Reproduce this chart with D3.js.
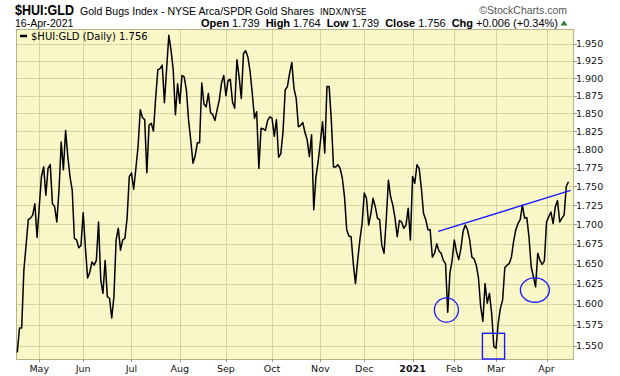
<!DOCTYPE html>
<html><head><meta charset="utf-8">
<script src="https://cdn.jsdelivr.net/npm/d3@7"></script>
<style>html,body{margin:0;padding:0;background:#fff;} svg{display:block;}</style>
</head><body>
<svg id="chart" width="620" height="376"></svg>
<script>
// ---- data: daily close of $HUI:GLD, one array per month (trading days) ----
const apr20 = [1.542,1.571,1.571,1.642,1.673,1.706,1.708,1.712,1.727,1.683];
const may20 = [1.723,1.763,1.776,1.738,1.774,1.779,1.727,1.723,1.703,1.745,1.810,1.772,1.826,1.790,1.763,1.745,1.682,1.680,1.670,1.673];
const jun20 = [1.715,1.671,1.632,1.639,1.652,1.648,1.654,1.703,1.630,1.613,1.654,1.609,1.607,1.583,1.609,1.680,1.695,1.667,1.680,1.682,1.708,1.763];
const jul20 = [1.768,1.746,1.774,1.804,1.855,1.844,1.841,1.768,1.833,1.836,1.825,1.871,1.912,1.914,1.919,1.865,1.914,1.963,1.941,1.912,1.848,1.892];
const aug20 = [1.864,1.904,1.902,1.883,1.840,1.812,1.781,1.791,1.809,1.809,1.893,1.863,1.859,1.878,1.851,1.848,1.840,1.855,1.869,1.893,1.904];
const sep20 = [1.875,1.897,1.898,1.866,1.857,1.927,1.902,1.871,1.936,1.940,1.931,1.910,1.878,1.843,1.852,1.774,1.829,1.828,1.826,1.840,1.845];
const oct20 = [1.843,1.818,1.841,1.789,1.794,1.824,1.883,1.888,1.907,1.923,1.885,1.871,1.831,1.833,1.837,1.823,1.813,1.790,1.820,1.719,1.763,1.783];
const nov20 = [1.810,1.838,1.795,1.888,1.888,1.840,1.776,1.776,1.779,1.774,1.761,1.736,1.693,1.685,1.684,1.650,1.625,1.654,1.680,1.701];
const dec20 = [1.741,1.734,1.699,1.714,1.734,1.723,1.708,1.706,1.673,1.663,1.706,1.758,1.736,1.725,1.708,1.684,1.705,1.703,1.695,1.699,1.721,1.680];
const jan21 = [1.763,1.754,1.779,1.774,1.747,1.714,1.706,1.693,1.693,1.658,1.663,1.675,1.666,1.663,1.654,1.650,1.590,1.638,1.654];
const feb21 = [1.680,1.665,1.655,1.669,1.691,1.699,1.693,1.680,1.658,1.656,1.648,1.632,1.597,1.579,1.625,1.601,1.613,1.589,1.549];
const mar21 = [1.547,1.577,1.595,1.605,1.645,1.648,1.650,1.658,1.678,1.693,1.701,1.706,1.725,1.708,1.709,1.684,1.646,1.634,1.621,1.663,1.654,1.649,1.653];
const apr21 = [1.703,1.710,1.716,1.701,1.723,1.731,1.703,1.708,1.712,1.750,1.756];

const monthSegments = [apr20, may20, jun20, jul20, aug20, sep20, oct20, nov20, dec20, jan21, feb21, mar21, apr21];
const monthLabels   = ["", "May", "Jun", "Jul", "Aug", "Sep", "Oct", "Nov", "Dec", "2021", "Feb", "Mar", "Apr"];
const yTickValues   = [1.550,1.575,1.600,1.625,1.650,1.675,1.700,1.725,1.750,1.775,1.800,1.825,1.850,1.875,1.900,1.925,1.950];

// annotations in data units: [trading-day index, ratio]
const trendLine = [[191.7, 1.691], [252.0, 1.7445]];
const circleMarks = [[195.4, 1.5927], [235.7, 1.6171]];
const boxMark = [[211.8, 1.5647], [221.9, 1.5344]];

const titleSymbol = "$HUI:GLD";
const titleName = "Gold Bugs Index - NYSE Arca/SPDR Gold Shares";
const titleExch = "INDX/NYSE";
const dateLabel = "16-Apr-2021";
const quote = [["Open","1.739"],["High","1.764"],["Low","1.739"],["Close","1.756"],["Chg","+0.006 (+0.34%)"]];
const legendLabel = "$HUI:GLD (Daily) 1.756";

// ---- build ----
const values = monthSegments.flat();
const monthStarts = [];
{ let c = 0; monthSegments.forEach(s => { monthStarts.push(c); c += s.length; }); }

const L = 16, R = 574, T = 30, B = 359;
const x = d3.scaleLinear().domain([-0.59, 253.5]).range([L, R]);
const y = d3.scaleLog().domain([1.5344, 1.971]).range([B, T]);

const svg = d3.select("#chart");
svg.append("rect").attr("width", 620).attr("height", 376).attr("fill", "#fff");

// plot background
svg.append("rect").attr("x", L).attr("y", T - 1).attr("width", R - L).attr("height", B - T + 1)
  .attr("fill", "#f9f7c7");

// horizontal grid
svg.append("g").selectAll("line").data(yTickValues).join("line")
  .attr("x1", L).attr("x2", R)
  .attr("y1", d => Math.round(y(d)) + 0.5).attr("y2", d => Math.round(y(d)) + 0.5)
  .attr("stroke", "#d6d6a2").attr("stroke-width", 1);

// vertical grid at month starts
const monthTicks = monthStarts.map((s, k) => ({ idx: s, label: monthLabels[k] })).filter(d => d.label);
svg.append("g").selectAll("line").data(monthTicks).join("line")
  .attr("x1", d => Math.round(x(d.idx)) + 0.5).attr("x2", d => Math.round(x(d.idx)) + 0.5)
  .attr("y1", T).attr("y2", B)
  .attr("stroke", "#d3d39c").attr("stroke-width", 1);

// border
svg.append("rect").attr("x", L + 0.5).attr("y", T - 0.5).attr("width", R - L - 1).attr("height", B - T + 1)
  .attr("fill", "none").attr("stroke", "#b3b386").attr("stroke-width", 1);

// right axis labels
const yAxis = svg.append("g");
yAxis.selectAll("line").data(yTickValues).join("line")
  .attr("x1", R).attr("x2", R + 3)
  .attr("y1", d => Math.round(y(d)) + 0.5).attr("y2", d => Math.round(y(d)) + 0.5)
  .attr("stroke", "#9a9a7a");
yAxis.selectAll("text").data(yTickValues).join("text")
  .attr("x", R + 2).attr("y", d => y(d)).attr("dy", "0.36em")
  .attr("font-family", "DejaVu Sans, Verdana, sans-serif").attr("font-size", 9.5)
  .attr("fill", "#111").text(d => d3.format(".3f")(d));

// bottom axis labels
const xAxis = svg.append("g");
xAxis.selectAll("line").data(monthTicks).join("line")
  .attr("x1", d => Math.round(x(d.idx)) + 0.5).attr("x2", d => Math.round(x(d.idx)) + 0.5)
  .attr("y1", B).attr("y2", B + 3).attr("stroke", "#9a9a7a");
xAxis.selectAll("text").data(monthTicks).join("text")
  .attr("x", d => x(d.idx)).attr("y", 371.5).attr("text-anchor", "middle")
  .attr("font-family", "DejaVu Sans, Verdana, sans-serif").attr("font-size", 9.5)
  .attr("font-weight", d => /^\d+$/.test(d.label) ? "bold" : "normal")
  .attr("fill", "#111").text(d => d.label);

// price line
const line = d3.line().x((d, i) => x(i)).y(d => y(d));
svg.append("path").datum(values).attr("d", line)
  .attr("fill", "none").attr("stroke", "#000").attr("stroke-width", 1.5)
  .attr("stroke-linejoin", "round");

// annotations
const blue = "#1a1aff";
svg.append("line")
  .attr("x1", x(trendLine[0][0])).attr("y1", y(trendLine[0][1]))
  .attr("x2", x(trendLine[1][0])).attr("y2", y(trendLine[1][1]))
  .attr("stroke", blue).attr("stroke-width", 1.4);
svg.append("ellipse").attr("cx", x(circleMarks[0][0])).attr("cy", y(circleMarks[0][1]))
  .attr("rx", 12).attr("ry", 12.2).attr("fill", "none").attr("stroke", blue).attr("stroke-width", 1.3);
svg.append("ellipse").attr("cx", x(circleMarks[1][0])).attr("cy", y(circleMarks[1][1]))
  .attr("rx", 14.5).attr("ry", 12.2).attr("fill", "none").attr("stroke", blue).attr("stroke-width", 1.3);
svg.append("rect")
  .attr("x", x(boxMark[0][0])).attr("y", y(boxMark[0][1]))
  .attr("width", x(boxMark[1][0]) - x(boxMark[0][0]))
  .attr("height", y(boxMark[1][1]) - y(boxMark[0][1]))
  .attr("fill", "none").attr("stroke", blue).attr("stroke-width", 1.4);

// legend
svg.append("line").attr("x1", 20).attr("x2", 27).attr("y1", 36).attr("y2", 36)
  .attr("stroke", "#000").attr("stroke-width", 2.5);
svg.append("text").attr("x", 31).attr("y", 40)
  .attr("font-family", "DejaVu Sans, Verdana, sans-serif").attr("font-size", 10)
  .attr("fill", "#000").text(legendLabel);

// header
svg.append("text").attr("x", 15).attr("y", 15)
  .attr("font-family", "Liberation Sans Narrow, Liberation Sans, Arial, sans-serif")
  .attr("font-weight", "bold").attr("font-size", 15.5)
  .attr("textLength", 59).attr("lengthAdjust", "spacingAndGlyphs")
  .attr("fill", "#000").text(titleSymbol);
svg.append("text").attr("x", 80).attr("y", 15)
  .attr("font-family", "Liberation Sans, Arial, sans-serif").attr("font-size", 10.5)
  .attr("textLength", 234).attr("lengthAdjust", "spacingAndGlyphs")
  .attr("fill", "#000").text(titleName);
svg.append("text").attr("x", 320).attr("y", 15)
  .attr("font-family", "DejaVu Sans, Verdana, sans-serif").attr("font-size", 8.5)
  .attr("fill", "#000").text(titleExch);
svg.append("text").attr("x", 567).attr("y", 14).attr("text-anchor", "end")
  .attr("font-family", "Liberation Sans, Arial, sans-serif").attr("font-size", 10.5)
  .attr("fill", "#555").text("\u00A9StockCharts.com");

svg.append("text").attr("x", 15).attr("y", 26.5)
  .attr("font-family", "Liberation Sans, Arial, sans-serif").attr("font-size", 10.5)
  .attr("fill", "#000").text(dateLabel);

const qt = svg.append("text").attr("x", 558).attr("y", 26.5).attr("text-anchor", "end")
  .attr("font-family", "Liberation Sans, Arial, sans-serif").attr("font-size", 11).attr("fill", "#000");
quote.forEach((q, k) => {
  qt.append("tspan").attr("font-weight", "bold").attr("dx", k === 0 ? 0 : 6).text(q[0]);
  qt.append("tspan").attr("dx", 3).text(q[1]);
});
svg.append("path").attr("d", "M560.5,25.5 L567.5,25.5 L564,20.5 Z").attr("fill", "#2e7d32");
</script>
</body></html>
